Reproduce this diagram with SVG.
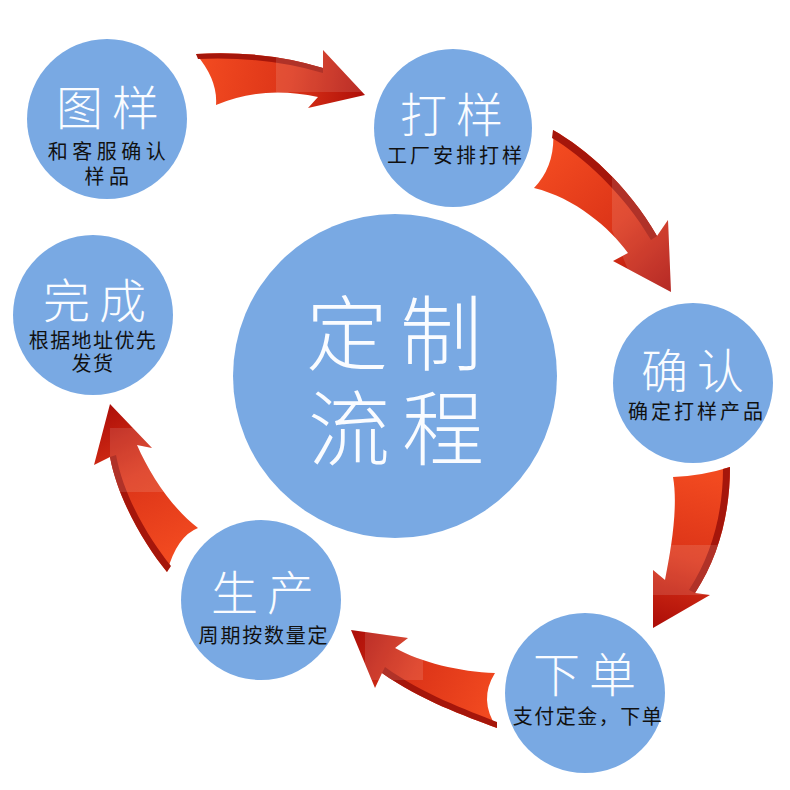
<svg xmlns="http://www.w3.org/2000/svg" xmlns:xlink="http://www.w3.org/1999/xlink" width="790" height="790" viewBox="0 0 790 790">
<style>
.node{fill:#79A9E3}
.lbl{font-family:"Noto Sans CJK SC","Noto Sans",sans-serif;text-anchor:middle;dominant-baseline:central}
.title{font-weight:300;fill:#FAFCFF}
.t48{font-size:47px;letter-spacing:9px}
.big{font-size:82px;letter-spacing:12px}
.sub{font-weight:400;font-size:20px;fill:#111}
.band{fill:#A5160B}
.hl{fill:#FFFFFF;opacity:0.12}
</style>
<defs>
<path id="a1" d="M196,54 Q265,50 323,68 L323,50 L365,95 L308,108 L318,97 Q263,85 216,105 Q218,80 196,54 Z"/>
<path id="a2" d="M553,130 C585,148 628,185 657,236 L668,220 L671,292 L613,261 L628,253 C610,228 575,198 534,188 Q556,165 553,130 Z"/>
<path id="a3" d="M673,477 Q702,476 730,467 C730,510 720,555 695,593 L710,595 L653,628 L653,570 L665,580 C672,545 678,505 673,477 Z"/>
<path id="a4" d="M351,630 L408,638 L395,648 C420,662 460,672 495,673 Q478,700 497,728 C465,716 420,700 382,673 L375,688 Z"/>
<path id="a5" d="M110,404 L152,448 L137,445 C150,475 172,508 198,528 Q177,536 167,572 C145,545 118,500 110,457 L94,465 Z"/>
<clipPath id="c1"><use xlink:href="#a1"/></clipPath>
<clipPath id="c2"><use xlink:href="#a2"/></clipPath>
<clipPath id="c3"><use xlink:href="#a3"/></clipPath>
<clipPath id="c4"><use xlink:href="#a4"/></clipPath>
<clipPath id="c5"><use xlink:href="#a5"/></clipPath>
<linearGradient id="g1" gradientUnits="userSpaceOnUse" x1="200" y1="75" x2="365" y2="100">
<stop offset="0" stop-color="#F24A20"/><stop offset="0.55" stop-color="#DC3418"/><stop offset="1" stop-color="#AE0F09"/>
</linearGradient>
<linearGradient id="g2" gradientUnits="userSpaceOnUse" x1="545" y1="160" x2="665" y2="290">
<stop offset="0" stop-color="#F24A20"/><stop offset="0.55" stop-color="#DC3418"/><stop offset="1" stop-color="#AE0F09"/>
</linearGradient>
<linearGradient id="g3" gradientUnits="userSpaceOnUse" x1="700" y1="472" x2="658" y2="625">
<stop offset="0" stop-color="#F24A20"/><stop offset="0.55" stop-color="#DC3418"/><stop offset="1" stop-color="#AE0F09"/>
</linearGradient>
<linearGradient id="g4" gradientUnits="userSpaceOnUse" x1="495" y1="700" x2="355" y2="632">
<stop offset="0" stop-color="#F24A20"/><stop offset="0.55" stop-color="#DC3418"/><stop offset="1" stop-color="#AE0F09"/>
</linearGradient>
<linearGradient id="g5" gradientUnits="userSpaceOnUse" x1="182" y1="550" x2="110" y2="406">
<stop offset="0" stop-color="#F24A20"/><stop offset="0.55" stop-color="#DC3418"/><stop offset="1" stop-color="#AE0F09"/>
</linearGradient>
</defs>
<rect width="790" height="790" fill="#FFFFFF"/>
<g id="connectors">
<g id="arrow-1">
<use xlink:href="#a1" fill="url(#g1)"/>
<path class="band" d="M196,54 Q265,50 323,68 L323,73 Q265,56 198,59 Z"/>
<rect class="hl" clip-path="url(#c1)" x="276" y="40" width="100" height="52"/>
</g>
<g id="arrow-2">
<use xlink:href="#a2" fill="url(#g2)"/>
<path class="band" d="M553,130 C585,148 628,185 657,236 L651,240 C623,192 582,156 552,138 Z"/>
<polygon class="hl" clip-path="url(#c2)" points="612,160 700,160 700,300 640,300 612,230"/>
</g>
<g id="arrow-3">
<use xlink:href="#a3" fill="url(#g3)"/>
<path class="band" d="M730,467 C730,510 720,555 695,593 L689,590 C713,553 723,510 723,469 Z"/>
<rect class="hl" clip-path="url(#c3)" x="640" y="545" width="100" height="50"/>
</g>
<g id="arrow-4">
<use xlink:href="#a4" fill="url(#g4)"/>
<path class="band" d="M497,728 C465,716 420,700 382,673 L385,667 C422,694 467,710 497,722 Z"/>
<rect class="hl" clip-path="url(#c4)" x="365" y="620" width="58" height="60"/>
</g>
<g id="arrow-5">
<use xlink:href="#a5" fill="url(#g5)"/>
<path class="band" d="M167,572 C145,545 118,500 110,457 L116,455 C124,498 150,540 171,566 Z"/>
<rect class="hl" clip-path="url(#c5)" x="110" y="428" width="80" height="64"/>
</g>
</g>
<g id="node-center">
<circle class="node" cx="395" cy="376" r="162"/>
<text class="lbl title big"><tspan x="400" y="328">定制</tspan><tspan x="402" y="423">流程</tspan></text>
</g>
<g id="node-tuyang">
<circle class="node" cx="107" cy="119" r="80"/>
<text class="lbl"><tspan class="title t48" x="112" y="104">图样</tspan><tspan class="sub" x="109" y="150" style="letter-spacing:4.5px">和客服确认</tspan><tspan class="sub" x="109" y="175" style="letter-spacing:4.5px">样品</tspan></text>
</g>
<g id="node-dayang">
<circle class="node" cx="453" cy="128" r="79"/>
<text class="lbl"><tspan class="title t48" x="456" y="111">打样</tspan><tspan class="sub" x="456" y="154" style="letter-spacing:3px">工厂安排打样</tspan></text>
</g>
<g id="node-queren">
<circle class="node" cx="693" cy="383" r="80"/>
<text class="lbl"><tspan class="title t48" x="697" y="367">确认</tspan><tspan class="sub" x="697" y="410" style="letter-spacing:3px">确定打样产品</tspan></text>
</g>
<g id="node-xiadan">
<circle class="node" cx="585" cy="693" r="80"/>
<text class="lbl"><tspan class="title t48" x="589" y="671">下单</tspan><tspan class="sub" x="588" y="715" style="letter-spacing:1.5px">支付定金，下单</tspan></text>
</g>
<g id="node-shengchan">
<circle class="node" cx="261" cy="600" r="80"/>
<text class="lbl"><tspan class="title t48" x="267" y="589">生产</tspan><tspan class="sub" x="264" y="634" style="letter-spacing:1.8px">周期按数量定</tspan></text>
</g>
<g id="node-wancheng">
<circle class="node" cx="93" cy="315" r="80"/>
<text class="lbl"><tspan class="title t48" x="99" y="297">完成</tspan><tspan class="sub" x="93" y="339" style="letter-spacing:1.4px">根据地址优先</tspan><tspan class="sub" x="93" y="362" style="letter-spacing:1.4px">发货</tspan></text>
</g>
</svg>
